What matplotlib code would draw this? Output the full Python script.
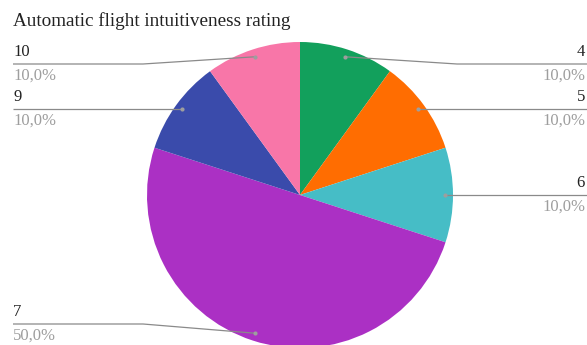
import matplotlib.pyplot as plt
import numpy as np

plt.rcParams["font.family"] = ["Liberation Serif", "DejaVu Serif"]

title = "Automatic flight intuitiveness rating"
ratings = ["4", "5", "6", "7", "9", "10"]
counts = [1, 1, 1, 5, 1, 1]
colors = ["#12A05C", "#FF6D01", "#46BDC6", "#AB30C4", "#3A4BAB", "#F876A8"]

W, H = 587, 345
cx, cy, r = 300, H - 195, 153

fig = plt.figure(figsize=(W / 100, H / 100), dpi=100)
ax = fig.add_axes([0, 0, 1, 1])
wedges, _ = ax.pie(counts, colors=colors, startangle=90, counterclock=False,
                   center=(cx, cy), radius=r, wedgeprops=dict(linewidth=0))
ax.set_xlim(0, W)
ax.set_ylim(0, H)
ax.set_aspect("equal")
ax.set_axis_off()

# label rows: y of the leader line (from top), side, elbow x
label_rows = {
    "4": (64, "right", 457),
    "5": (109, "right", None),
    "6": (195, "right", None),
    "7": (324, "left", 143),
    "9": (109, "left", None),
    "10": (64, "left", 143),
}

total = sum(counts)
line_c = "#8a8a8a"
for w, name, n in zip(wedges, ratings, counts):
    mid = np.deg2rad((w.theta1 + w.theta2) / 2)
    px = cx + 0.95 * r * np.cos(mid)
    py = cy + 0.95 * r * np.sin(mid)
    row_y, side, elbow = label_rows[name]
    ly = H - row_y
    end_x = 13 if side == "left" else W
    if elbow:
        xs, ys = [px, elbow, end_x], [py, ly, ly]
    else:
        xs, ys = [px, end_x], [ly, ly]
        py = ly
    ax.plot(xs, ys, color=line_c, lw=0.9, solid_capstyle="butt")
    ax.plot(px, py, "o", ms=3, color="#9e9e9e", mec="none")
    ha = "left" if side == "left" else "right"
    tx = 13 if side == "left" else W - 2
    ax.text(tx, ly + 4, name, ha=ha, va="bottom", fontsize=12, color="#222222")
    ax.text(tx, ly - 4, f"{100 * n / total:.1f}%".replace(".", ","), ha=ha,
            va="top", fontsize=12, color="#9e9e9e")

fig.text(13 / W, 1 - 26 / H, title, fontsize=13.8, color="#222222",
         ha="left", va="baseline")

fig.savefig("out.png", dpi=100)
